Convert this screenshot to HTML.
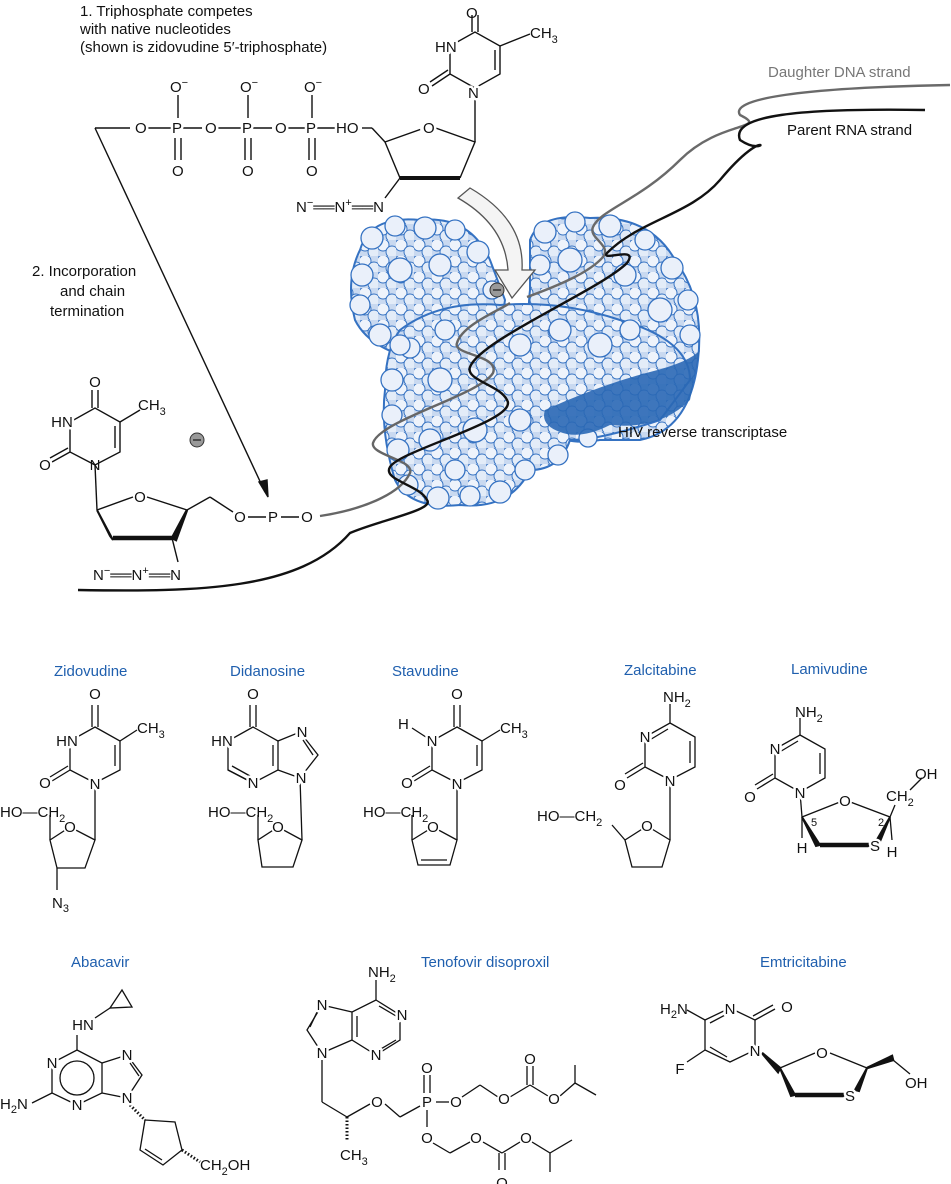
<!DOCTYPE html><html><head><meta charset="utf-8"><style>
html,body{margin:0;padding:0;background:#fff}
svg{display:block}
text{font-family:"Liberation Sans",Arial,sans-serif;font-size:15px;fill:#111}
.m{paint-order:stroke;stroke:#fff;stroke-width:5px;stroke-linejoin:round}
.a{text-anchor:middle}
.b{fill:#1f5fae;font-size:15px}
.s{font-size:11px}
.w{fill:#fff;stroke:none}
.c circle{fill:#eaf0fa;stroke:#3572c2;stroke-width:1.3}
</style></head><body>
<svg width="951" height="1184" viewBox="0 0 951 1184" xmlns="http://www.w3.org/2000/svg">
<defs>
<pattern id="pc" width="18" height="16" patternUnits="userSpaceOnUse">
<rect width="18" height="16" fill="#c9d9f0"/>
<circle cx="5" cy="5" r="6" fill="#eef3fb" stroke="#3572c2" stroke-width="1"/>
<circle cx="14" cy="12" r="6" fill="#e3ecf8" stroke="#3572c2" stroke-width="1"/>
</pattern>
</defs>

<text x="80" y="16">1. Triphosphate competes</text>
<text x="80" y="34">with native nucleotides</text>
<text x="80" y="52">(shown is zidovudine 5′-triphosphate)</text>

<!-- protein -->
<g>
<path d="M360,250 Q370,215 420,220 Q470,215 490,260 L505,300 Q500,340 470,350 L420,360 Q370,350 355,320 Q345,280 360,250Z" fill="url(#pc)" stroke="#3572c2" stroke-width="2"/>
<path d="M530,240 Q540,212 590,218 Q650,215 675,260 Q705,300 698,360 Q690,430 640,440 L600,440 Q540,450 540,400 Q525,330 530,290Z" fill="url(#pc)" stroke="#3572c2" stroke-width="2"/>
<path d="M400,330 Q440,300 500,305 Q560,300 620,320 Q690,340 690,380 L660,420 Q600,440 570,440 Q560,470 530,470 Q510,510 460,505 Q410,510 395,480 Q380,430 385,390 Q385,350 400,330Z" fill="url(#pc)" stroke="#3572c2" stroke-width="2"/>
<g class="c">
<circle cx="372" cy="238" r="11"/><circle cx="395" cy="226" r="10"/><circle cx="425" cy="228" r="11"/><circle cx="455" cy="230" r="10"/><circle cx="478" cy="252" r="11"/><circle cx="362" cy="275" r="11"/><circle cx="360" cy="305" r="10"/><circle cx="380" cy="335" r="11"/><circle cx="410" cy="348" r="10"/><circle cx="445" cy="330" r="10"/><circle cx="492" cy="290" r="9"/><circle cx="400" cy="270" r="12"/><circle cx="440" cy="265" r="11"/>
<circle cx="545" cy="232" r="11"/><circle cx="575" cy="222" r="10"/><circle cx="610" cy="226" r="11"/><circle cx="645" cy="240" r="10"/><circle cx="672" cy="268" r="11"/><circle cx="688" cy="300" r="10"/><circle cx="690" cy="335" r="10"/><circle cx="540" cy="265" r="10"/><circle cx="570" cy="260" r="12"/><circle cx="625" cy="275" r="11"/><circle cx="660" cy="310" r="12"/>
<circle cx="400" cy="345" r="10"/><circle cx="392" cy="380" r="11"/><circle cx="392" cy="415" r="10"/><circle cx="398" cy="450" r="11"/><circle cx="408" cy="485" r="10"/><circle cx="438" cy="498" r="11"/><circle cx="470" cy="496" r="10"/><circle cx="500" cy="492" r="11"/><circle cx="525" cy="470" r="10"/><circle cx="558" cy="455" r="10"/><circle cx="588" cy="438" r="9"/><circle cx="440" cy="380" r="12"/><circle cx="475" cy="430" r="12"/><circle cx="520" cy="345" r="11"/><circle cx="560" cy="330" r="11"/><circle cx="600" cy="345" r="12"/><circle cx="430" cy="440" r="11"/><circle cx="520" cy="420" r="11"/><circle cx="455" cy="470" r="10"/><circle cx="630" cy="330" r="10"/>
</g>
<path d="M545,410 Q600,385 650,372 Q690,362 700,350 L690,400 Q660,430 610,425 Q580,440 560,432 Q540,425 545,410Z" fill="#2a68b5" opacity="0.9"/>
</g>

<!-- strands -->
<path d="M320,516 C360,510 400,495 410,473 C415,460 370,455 373,443 C380,420 480,395 493,373 C500,355 452,355 457,343 C462,325 500,310 510,303" fill="none" stroke="#666" stroke-width="2.4"/>
<path d="M527,297 C560,285 590,272 603,257 C612,245 588,238 593,227 C600,210 640,200 680,160 C720,120 770,130 740,115 C730,100 790,88 950,85" fill="none" stroke="#6a6a6a" stroke-width="2.4"/>
<path d="M78,590 C200,592 300,590 350,533 C380,520 435,510 427,500 C420,485 382,480 390,467 C400,450 520,420 507,400 C500,385 465,380 470,367 C480,340 600,290 627,263 C640,245 600,262 607,253 C640,220 690,215 720,180 C770,120 770,160 740,140 C730,115 800,108 925,110" fill="none" stroke="#111" stroke-width="2.4"/>
<text x="768" y="77" style="fill:#777">Daughter DNA strand</text>
<text x="787" y="135">Parent RNA strand</text>
<text x="618" y="437">HIV reverse transcriptase</text>

<path d="M470,188 Q525,220 522,270 L535,270 L512,298 L495,270 L508,270 Q505,225 458,198Z" fill="#f4f4f4" stroke="#555" stroke-width="1.3"/>
<circle cx="497" cy="290" r="7" fill="#999" stroke="#333"/><line x1="493" y1="290" x2="501" y2="290" stroke="#222" stroke-width="1.3"/>
<circle cx="197" cy="440" r="7" fill="#999" stroke="#333"/><line x1="193" y1="440" x2="201" y2="440" stroke="#222" stroke-width="1.3"/>

<!-- top molecule -->
<g fill="none" stroke="#111" stroke-width="1.4">
<line x1="95" y1="128" x2="130" y2="128"/>
<line x1="95" y1="128" x2="265" y2="492"/>
<polygon points="259,482 268,497 267,480" fill="#111"/>
<line x1="145" y1="128" x2="335" y2="128"/>
<line x1="178" y1="95" x2="178" y2="118"/><line x1="248" y1="95" x2="248" y2="118"/><line x1="312" y1="95" x2="312" y2="118"/>
<line x1="175" y1="138" x2="175" y2="160"/><line x1="181" y1="138" x2="181" y2="160"/>
<line x1="245" y1="138" x2="245" y2="160"/><line x1="251" y1="138" x2="251" y2="160"/>
<line x1="309" y1="138" x2="309" y2="160"/><line x1="315" y1="138" x2="315" y2="160"/>
<line x1="362" y1="128" x2="372" y2="128"/><line x1="372" y1="128" x2="385" y2="142"/>
<polyline points="385,142 430,126 475,142 460,178"/>
<line x1="400" y1="178" x2="460" y2="178" stroke-width="4"/>
<line x1="385" y1="142" x2="400" y2="178"/>
<line x1="400" y1="178" x2="385" y2="198"/>
<line x1="475" y1="142" x2="475" y2="95"/>
<polygon points="475,88 450,74 450,46 475,32 500,46 500,74"/>
<line x1="495" y1="50" x2="495" y2="70"/>
<line x1="500" y1="46" x2="530" y2="34"/>
<line x1="472" y1="32" x2="472" y2="15"/><line x1="478" y1="32" x2="478" y2="15"/>
<line x1="450" y1="74" x2="432" y2="86"/><line x1="448" y1="70" x2="430" y2="82"/>
</g>
<g class="w"><circle cx="140" cy="128" r="8"/><circle cx="210" cy="128" r="8"/><circle cx="280" cy="128" r="8"/><circle cx="428" cy="128" r="8"/><circle cx="140" cy="497" r="8"/><circle cx="240" cy="517" r="8"/><circle cx="307" cy="517" r="8"/>
<circle cx="70" cy="827" r="7"/><circle cx="278" cy="827" r="7"/><circle cx="433" cy="827" r="7"/><circle cx="647" cy="826" r="7"/><circle cx="845" cy="801" r="7"/><circle cx="822" cy="1053" r="7"/>
<circle cx="377" cy="1102" r="7"/><circle cx="456" cy="1102" r="7"/><circle cx="504" cy="1099" r="7"/><circle cx="554" cy="1099" r="7"/><circle cx="427" cy="1138" r="7"/><circle cx="476" cy="1138" r="7"/><circle cx="526" cy="1138" r="7"/></g>
<text class="m" x="135" y="133">O</text><text class="m" x="172" y="133">P</text><text class="m" x="205" y="133">O</text><text class="m" x="242" y="133">P</text><text class="m" x="275" y="133">O</text><text class="m" x="306" y="133">P</text><text class="m" x="336" y="133">HO</text>
<text x="170" y="92">O<tspan dy="-6" class="s">−</tspan></text><text x="240" y="92">O<tspan dy="-6" class="s">−</tspan></text><text x="304" y="92">O<tspan dy="-6" class="s">−</tspan></text>
<text x="172" y="176">O</text><text x="242" y="176">O</text><text x="306" y="176">O</text>
<text class="m" x="468" y="98">N</text><text class="m" x="435" y="52">HN</text><text x="466" y="18">O</text><text x="530" y="38">CH<tspan dy="5" class="s">3</tspan></text><text class="m" x="418" y="94">O</text>
<text class="m" x="423" y="133">O</text>
<text x="296" y="212">N<tspan dy="-6" class="s">−</tspan><tspan dy="6">══N</tspan><tspan dy="-6" class="s">+</tspan><tspan dy="6">══N</tspan></text>
<text x="32" y="276">2. Incorporation</text><text x="60" y="296">and chain</text><text x="50" y="316">termination</text>

<!-- lower-left molecule -->
<g fill="none" stroke="#111" stroke-width="1.4">
<polygon points="95,465 70,452 70,422 95,408 120,422 120,452"/>
<line x1="115" y1="426" x2="115" y2="448"/>
<line x1="120" y1="422" x2="140" y2="410"/>
<line x1="92" y1="408" x2="92" y2="390"/><line x1="98" y1="408" x2="98" y2="390"/>
<line x1="70" y1="452" x2="52" y2="462"/><line x1="68" y1="448" x2="50" y2="458"/>
<line x1="95" y1="465" x2="97" y2="510"/>
<polyline points="97,510 133,497"/><polyline points="147,497 187,510"/>
<polygon points="97,510 113,540 110,536" fill="#111" stroke-width="2"/>
<line x1="113" y1="538" x2="172" y2="538" stroke-width="4.5"/>
<polygon points="187,510 172,538 176,540" fill="#111" stroke-width="2.5"/>
<line x1="172" y1="538" x2="178" y2="562"/>
<line x1="187" y1="510" x2="210" y2="497"/><line x1="210" y1="497" x2="233" y2="512"/>
<line x1="248" y1="517" x2="266" y2="517"/><line x1="281" y1="517" x2="299" y2="517"/>
</g>
<text class="a" x="95" y="470">N</text><text class="m a" x="62" y="427">HN</text><text class="a" x="95" y="387">O</text><text x="138" y="410">CH<tspan dy="5" class="s">3</tspan></text><text class="m a" x="45" y="470">O</text>
<text class="a" x="140" y="502">O</text>
<text class="a" x="240" y="522">O</text><text class="a" x="273" y="522">P</text><text class="a" x="307" y="522">O</text>
<text x="93" y="580">N<tspan dy="-6" class="s">−</tspan><tspan dy="6">══N</tspan><tspan dy="-6" class="s">+</tspan><tspan dy="6">══N</tspan></text>

<!-- bottom labels -->
<text class="b" x="54" y="676">Zidovudine</text>
<text class="b" x="230" y="676">Didanosine</text>
<text class="b" x="392" y="676">Stavudine</text>
<text class="b" x="624" y="675">Zalcitabine</text>
<text class="b" x="791" y="674">Lamivudine</text>
<text class="b" x="71" y="967">Abacavir</text>
<text class="b" x="421" y="967">Tenofovir disoproxil</text>
<text class="b" x="760" y="967">Emtricitabine</text>

<g fill="none" stroke="#111" stroke-width="1.3">
<polygon points="95,727 120,741 120,770 95,783 70,770 70,741"/>
<line x1="115" y1="745" x2="115" y2="766"/>
<line x1="120" y1="741" x2="137" y2="730"/>
<line x1="92" y1="727" x2="92" y2="705"/><line x1="98" y1="727" x2="98" y2="705"/>
<line x1="70" y1="770" x2="52" y2="781"/><line x1="68" y1="766" x2="50" y2="777"/>
<line x1="95" y1="783" x2="95" y2="840"/>
<polygon points="95,840 70,827 50,840 57,868 85,868"/>
<line x1="50" y1="840" x2="50" y2="815"/>
<line x1="57" y1="868" x2="57" y2="890"/>
<polygon points="253,727 278,741 278,770 253,783 228,770 228,741"/>
<line x1="273" y1="745" x2="273" y2="766"/>
<line x1="250" y1="727" x2="250" y2="705"/><line x1="256" y1="727" x2="256" y2="705"/>
<line x1="228" y1="770" x2="253" y2="783"/><line x1="232" y1="766" x2="250" y2="776"/>
<polyline points="278,741 300,732 318,755 300,778 278,770"/>
<line x1="303" y1="740" x2="313" y2="755"/>
<line x1="300" y1="778" x2="302" y2="840"/>
<polygon points="302,840 278,827 258,840 262,867 293,867"/>
<line x1="258" y1="840" x2="258" y2="815"/>
<polygon points="457,727 482,741 482,770 457,783 432,770 432,741"/>
<line x1="477" y1="745" x2="477" y2="766"/>
<line x1="482" y1="741" x2="500" y2="730"/>
<line x1="454" y1="727" x2="454" y2="705"/><line x1="460" y1="727" x2="460" y2="705"/>
<line x1="432" y1="770" x2="414" y2="781"/><line x1="430" y1="766" x2="412" y2="777"/>
<line x1="432" y1="741" x2="412" y2="728"/>
<line x1="457" y1="783" x2="457" y2="840"/>
<polygon points="457,840 433,827 412,840 418,865 450,865"/>
<line x1="421" y1="860" x2="447" y2="860"/>
<line x1="412" y1="840" x2="412" y2="815"/>
<polygon points="670,723 695,737 695,767 670,780 645,767 645,737"/>
<line x1="690" y1="741" x2="690" y2="763"/>
<line x1="648" y1="741" x2="668" y2="729"/>
<line x1="670" y1="723" x2="670" y2="704"/>
<line x1="645" y1="767" x2="627" y2="778"/><line x1="643" y1="763" x2="625" y2="774"/>
<line x1="670" y1="780" x2="670" y2="840"/>
<polygon points="670,840 647,826 625,840 632,867 662,867"/>
<line x1="625" y1="840" x2="612" y2="825"/>
<polygon points="800,735 825,749 825,778 800,792 775,778 775,749"/>
<line x1="820" y1="753" x2="820" y2="774"/>
<line x1="778" y1="753" x2="798" y2="741"/>
<line x1="800" y1="735" x2="800" y2="718"/>
<line x1="775" y1="778" x2="757" y2="789"/><line x1="773" y1="774" x2="755" y2="785"/>
<line x1="800" y1="792" x2="802" y2="817"/>
<polyline points="802,817 845,800 890,817"/>
<polygon points="802,817 820,845 816,846" fill="#111" stroke-width="2"/>
<line x1="820" y1="845" x2="870" y2="845" stroke-width="4.5"/>
<polygon points="890,817 875,843 879,844" fill="#111" stroke-width="2"/>
<line x1="802" y1="817" x2="802" y2="838"/>
<line x1="890" y1="817" x2="892" y2="840"/>
<line x1="890" y1="817" x2="895" y2="805"/>
<line x1="910" y1="790" x2="922" y2="778"/>
<polygon points="77,1050 102,1063 102,1093 77,1105 52,1093 52,1063"/>
<circle cx="77" cy="1078" r="17"/>
<polyline points="102,1063 127,1055 142,1075 127,1098 102,1093"/>
<line x1="130" y1="1063" x2="139" y2="1076"/>
<line x1="77" y1="1050" x2="77" y2="1035"/>
<line x1="95" y1="1018" x2="110" y2="1008"/><polygon points="110,1008 122,990 132,1007"/>
<line x1="52" y1="1093" x2="32" y2="1103"/>
<line x1="130" y1="1105" x2="145" y2="1120" stroke-dasharray="1.5,2" stroke-width="3"/>
<polygon points="145,1120 175,1122 182,1150 163,1165 140,1150"/>
<line x1="145" y1="1149" x2="162" y2="1160"/>
<line x1="182" y1="1150" x2="200" y2="1162" stroke-dasharray="1.5,2" stroke-width="3"/>
<polygon points="376,1000 400,1015 400,1040 376,1055 352,1040 352,1012"/>
<line x1="379" y1="1006" x2="396" y2="1016"/><line x1="379" y1="1050" x2="396" y2="1040"/><line x1="357" y1="1016" x2="357" y2="1037"/>
<line x1="376" y1="1000" x2="376" y2="980"/>
<polyline points="352,1012 322,1005 307,1030 322,1053 352,1040"/>
<line x1="318" y1="1010" x2="310" y2="1027"/>
<line x1="322" y1="1060" x2="322" y2="1102"/><line x1="322" y1="1102" x2="347" y2="1117"/>
<line x1="347" y1="1117" x2="347" y2="1140" stroke-dasharray="1.5,2" stroke-width="3"/>
<line x1="347" y1="1117" x2="370" y2="1104"/><line x1="385" y1="1104" x2="400" y2="1117"/><line x1="400" y1="1117" x2="420" y2="1106"/>
<line x1="424" y1="1093" x2="424" y2="1075"/><line x1="430" y1="1093" x2="430" y2="1075"/>
<line x1="436" y1="1102" x2="449" y2="1102"/><line x1="462" y1="1097" x2="480" y2="1085"/><line x1="480" y1="1085" x2="498" y2="1097"/>
<line x1="510" y1="1097" x2="530" y2="1085"/><line x1="527" y1="1085" x2="527" y2="1066"/><line x1="533" y1="1085" x2="533" y2="1066"/><line x1="530" y1="1085" x2="548" y2="1096"/>
<line x1="560" y1="1096" x2="575" y2="1083"/><line x1="575" y1="1083" x2="596" y2="1095"/><line x1="575" y1="1083" x2="575" y2="1065"/>
<line x1="427" y1="1110" x2="427" y2="1127"/>
<line x1="433" y1="1143" x2="450" y2="1153"/><line x1="450" y1="1153" x2="470" y2="1142"/>
<line x1="483" y1="1142" x2="502" y2="1153"/><line x1="499" y1="1153" x2="499" y2="1170"/><line x1="505" y1="1153" x2="505" y2="1170"/><line x1="502" y1="1153" x2="520" y2="1142"/>
<line x1="532" y1="1142" x2="550" y2="1153"/><line x1="550" y1="1153" x2="572" y2="1140"/><line x1="550" y1="1153" x2="550" y2="1172"/>
<polygon points="705,1020 730,1008 755,1020 755,1050 730,1062 705,1050"/>
<line x1="710" y1="1023" x2="727" y2="1014"/><line x1="710" y1="1047" x2="727" y2="1057"/>
<line x1="755" y1="1020" x2="775" y2="1009"/><line x1="753" y1="1016" x2="773" y2="1005"/>
<line x1="705" y1="1020" x2="687" y2="1010"/><line x1="705" y1="1050" x2="687" y2="1062"/>
<polygon points="762,1053 780,1068 778,1072" fill="#111" stroke-width="2.5"/>
<polyline points="780,1068 815,1053"/><line x1="830" y1="1053" x2="867" y2="1068"/>
<polygon points="780,1068 795,1095 791,1096" fill="#111" stroke-width="2"/>
<line x1="795" y1="1095" x2="845" y2="1095" stroke-width="4.5"/>
<polygon points="867,1068 855,1090 859,1091" fill="#111" stroke-width="2"/>
<polygon points="867,1068 893,1060 892,1056" fill="#111" stroke-width="2.5"/>
<line x1="893" y1="1060" x2="910" y2="1074"/>
</g>
<g class="w"><circle cx="70" cy="827" r="7"/><circle cx="278" cy="827" r="7"/><circle cx="433" cy="827" r="7"/><circle cx="647" cy="826" r="7"/><circle cx="845" cy="801" r="7"/><circle cx="822" cy="1053" r="7"/>
<circle cx="377" cy="1102" r="7"/><circle cx="456" cy="1102" r="7"/><circle cx="504" cy="1099" r="7"/><circle cx="554" cy="1099" r="7"/><circle cx="427" cy="1138" r="7"/><circle cx="476" cy="1138" r="7"/><circle cx="526" cy="1138" r="7"/></g>
<text class="a" x="95" y="699">O</text><text class="m a" x="67" y="746">HN</text><text x="137" y="733">CH<tspan dy="5" class="s">3</tspan></text><text class="m a" x="95" y="789">N</text><text class="m a" x="45" y="788">O</text>
<text x="0" y="817">HO—CH<tspan dy="5" class="s">2</tspan></text><text class="a" x="70" y="832">O</text><text x="52" y="908">N<tspan dy="4" class="s">3</tspan></text>
<text class="a" x="253" y="699">O</text><text class="m a" x="222" y="746">HN</text><text class="m a" x="253" y="788">N</text><text class="m a" x="302" y="737">N</text><text class="m a" x="301" y="783">N</text>
<text x="208" y="817">HO—CH<tspan dy="5" class="s">2</tspan></text><text class="a" x="278" y="832">O</text>
<text class="a" x="457" y="699">O</text><text x="398" y="729">H</text><text class="m a" x="432" y="746">N</text><text x="500" y="733">CH<tspan dy="5" class="s">3</tspan></text><text class="m a" x="457" y="789">N</text><text class="m a" x="407" y="788">O</text>
<text x="363" y="817">HO—CH<tspan dy="5" class="s">2</tspan></text><text class="a" x="433" y="832">O</text>
<text x="663" y="702">NH<tspan dy="5" class="s">2</tspan></text><text class="m a" x="645" y="742">N</text><text class="m a" x="670" y="786">N</text><text class="m a" x="620" y="790">O</text>
<text x="537" y="821">HO—CH<tspan dy="5" class="s">2</tspan></text><text class="a" x="647" y="831">O</text>
<text x="795" y="717">NH<tspan dy="5" class="s">2</tspan></text><text class="m a" x="775" y="754">N</text><text class="m a" x="800" y="798">N</text><text class="m a" x="750" y="802">O</text><text class="a" x="845" y="806">O</text>
<text x="886" y="801">CH<tspan dy="5" class="s">2</tspan></text><text x="915" y="779">OH</text><text class="a" x="802" y="853">H</text><text class="m a" x="875" y="851">S</text><text class="a" x="892" y="857">H</text><text x="811" y="826" class="s">5</text><text x="878" y="826" class="s">2</text>
<text class="m a" x="83" y="1030">HN</text><text class="m a" x="52" y="1068">N</text><text class="m a" x="77" y="1110">N</text><text class="m a" x="127" y="1060">N</text><text class="m a" x="127" y="1103">N</text><text x="0" y="1109">H<tspan dy="4" class="s">2</tspan><tspan dy="-4">N</tspan></text><text x="200" y="1170">CH<tspan dy="5" class="s">2</tspan><tspan dy="-5">OH</tspan></text>
<text x="368" y="977">NH<tspan dy="5" class="s">2</tspan></text><text class="m a" x="402" y="1020">N</text><text class="m a" x="376" y="1060">N</text><text class="m a" x="322" y="1010">N</text><text class="m a" x="322" y="1058">N</text>
<text class="a" x="377" y="1107">O</text><text class="m a" x="427" y="1107">P</text><text class="a" x="427" y="1073">O</text><text class="a" x="456" y="1107">O</text><text class="a" x="504" y="1104">O</text><text class="a" x="530" y="1064">O</text><text class="a" x="554" y="1104">O</text>
<text class="a" x="427" y="1143">O</text><text class="a" x="476" y="1143">O</text><text class="a" x="502" y="1188">O</text><text class="a" x="526" y="1143">O</text>
<text x="340" y="1160">CH<tspan dy="5" class="s">3</tspan></text>
<text x="660" y="1014">H<tspan dy="4" class="s">2</tspan><tspan dy="-4">N</tspan></text><text class="m a" x="730" y="1014">N</text><text class="a" x="787" y="1012">O</text><text class="m a" x="755" y="1056">N</text><text class="m a" x="680" y="1074">F</text><text class="a" x="822" y="1058">O</text><text class="m a" x="850" y="1101">S</text><text x="905" y="1088">OH</text>
</svg>
</body></html>
